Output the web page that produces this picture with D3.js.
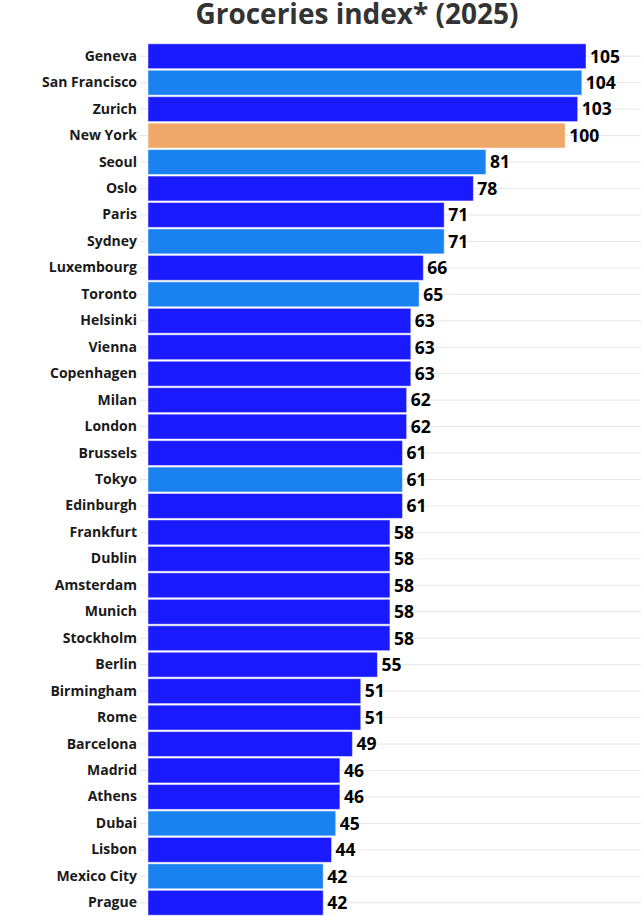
<!DOCTYPE html>
<html><head><meta charset="utf-8">
<script src="https://cdn.jsdelivr.net/npm/d3@7"></script>
<style>body{margin:0;background:#fff;}svg{display:block;}</style>
</head><body>
<svg id="c" width="641" height="916"></svg>
<script>
const cities = ["Geneva","San Francisco","Zurich","New York","Seoul","Oslo","Paris","Sydney","Luxembourg","Toronto","Helsinki","Vienna","Copenhagen","Milan","London","Brussels","Tokyo","Edinburgh","Frankfurt","Dublin","Amsterdam","Munich","Stockholm","Berlin","Birmingham","Rome","Barcelona","Madrid","Athens","Dubai","Lisbon","Mexico City","Prague"];
const values = [105,104,103,100,81,78,71,71,66,65,63,63,63,62,62,61,61,61,58,58,58,58,58,55,51,51,49,46,46,45,44,42,42];
const groups = ["eu","na","eu","ref","other","eu","eu","other","eu","other","eu","eu","eu","eu","eu","eu","other","eu","eu","eu","eu","eu","eu","eu","eu","eu","eu","eu","eu","other","eu","other","eu"];
const groupColors = {eu:"#1a1aff", na:"#1a82f0", other:"#1a82f0", ref:"#f0a868"};

const svg = d3.select("#c");
const x = d3.scaleLinear().domain([0,105]).range([148,586]);
const y = d3.scaleBand().domain(cities).range([43,916]).paddingInner(0.06).paddingOuter(0.03);

svg.append("text").attr("x",357).attr("y",24).attr("text-anchor","middle")
  .attr("font-family","Open Sans").attr("font-weight",700).attr("font-size",28).attr("fill","#333")
  .text("Groceries index* (2025)");

// gridlines
svg.append("g").selectAll("line").data(cities).join("line")
  .attr("x1",140).attr("x2",641)
  .attr("y1",d=>y(d)+y.bandwidth()/2).attr("y2",d=>y(d)+y.bandwidth()/2)
  .attr("stroke","#e6e6e6").attr("stroke-width",1);

const ax = svg.append("g").attr("transform","translate(140,0)")
  .call(d3.axisLeft(y).tickSize(0).tickPadding(3));
ax.select(".domain").remove();
ax.selectAll("text").attr("font-family","Open Sans").attr("font-weight",700).attr("font-size",14).attr("fill","#1a1a1a");

svg.append("g").selectAll("rect").data(cities).join("rect")
  .attr("x",x(0)).attr("y",d=>y(d))
  .attr("width",(d,i)=>x(values[i])-x(0)).attr("height",y.bandwidth())
  .attr("fill",(d,i)=>groupColors[groups[i]])
  .attr("stroke","rgba(255,255,255,0.45)").attr("stroke-width",1);

svg.append("g").selectAll("text").data(cities).join("text")
  .attr("x",(d,i)=>x(values[i])+4).attr("y",d=>y(d)+y.bandwidth()/2)
  .attr("dy","0.36em")
  .attr("font-family","Open Sans").attr("font-weight",700).attr("font-size",17.5).attr("fill","#000")
  .text((d,i)=>values[i]);
</script>
</body></html>
